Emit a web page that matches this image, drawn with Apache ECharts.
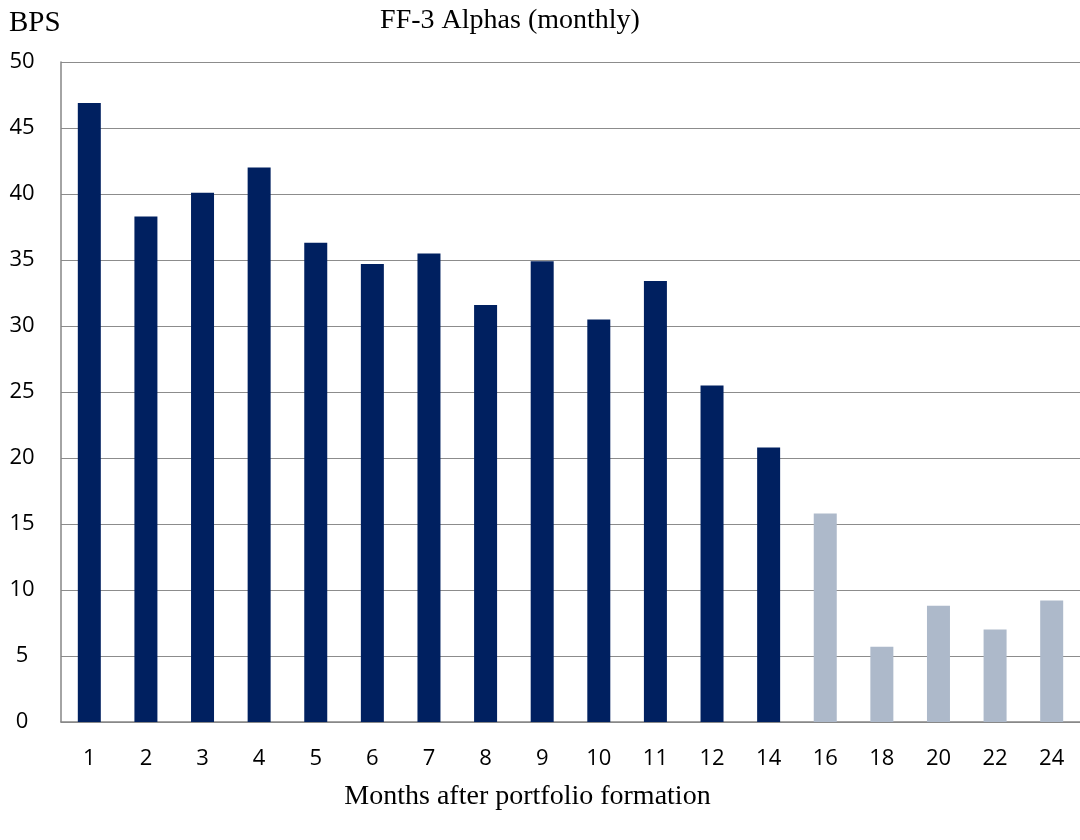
<!DOCTYPE html>
<html>
<head>
<meta charset="utf-8">
<script src="https://cdn.jsdelivr.net/npm/echarts@6/dist/echarts.min.js"></script>
<style>html,body{margin:0;padding:0;background:#fff;}#chart{width:1080px;height:840px;}</style>
</head>
<body>
<div id="chart"></div>
<script>
const months = ['1','2','3','4','5','6','7','8','9','10','11','12','14','16','18','20','22','24'];
const alphaDark = [46.9,38.3,40.1,42.0,36.3,34.7,35.5,31.6,34.9,30.5,33.4,25.5,20.8,null,null,null,null,null];
const alphaLight = [null,null,null,null,null,null,null,null,null,null,null,null,null,15.8,5.7,8.8,7.0,9.2];
const yTicks = [0,5,10,15,20,25,30,35,40,45,50];

const chart = echarts.init(document.getElementById('chart'));
chart.setOption({
  animation: false,
  backgroundColor: '#fff',
  title: [
    {text: 'FF-3 Alphas (monthly)', left: 505, top: 2, textAlign: 'center',
     textStyle: {fontFamily: 'Liberation Serif', fontSize: 28, fontWeight: 'normal', color: '#000'}},
    {text: 'BPS', left: 4, top: 4,
     textStyle: {fontFamily: 'Liberation Serif', fontSize: 29, fontWeight: 'normal', color: '#000'}}
  ],
  grid: {left: 61, right: 0, top: 62, bottom: 118, containLabel: false},
  xAxis: {
    type: 'category', data: months,
    name: 'Months after portfolio formation', nameLocation: 'middle', nameGap: 61,
    nameTextStyle: {fontFamily: 'Liberation Serif', fontSize: 28, color: '#000', padding: [0, 86, 0, 0]},
    axisLine: {lineStyle: {color: '#868686', width: 1.5}},
    axisTick: {show: false},
    axisLabel: {fontFamily: 'Open Sans', fontSize: 22, color: '#000', margin: 26}
  },
  yAxis: {
    type: 'value', min: 0, max: 50, interval: 5,
    axisLine: {show: true, lineStyle: {color: '#868686', width: 1.5}},
    axisTick: {show: false},
    axisLabel: {fontFamily: 'Open Sans', fontSize: 22, color: '#000', margin: 39, align: 'center',
      formatter: v => yTicks.includes(v) ? String(v) : ''},
    splitLine: {lineStyle: {color: '#8c8c8c', width: 1.2}}
  },
  series: [
    {type: 'bar', data: alphaDark, barWidth: 23, barGap: '-100%', itemStyle: {color: '#002060'}},
    {type: 'bar', data: alphaLight, barWidth: 23, barGap: '-100%', itemStyle: {color: '#ADB9CA'}}
  ]
});
</script>
</body>
</html>
